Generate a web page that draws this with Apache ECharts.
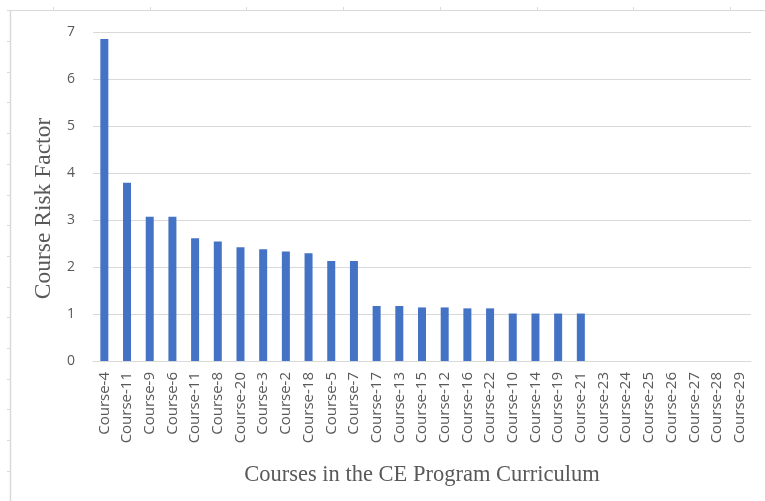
<!DOCTYPE html>
<html>
<head>
<meta charset="utf-8">
<script src="https://cdn.jsdelivr.net/npm/echarts@6/dist/echarts.min.js"></script>
<style>
html, body { margin: 0; padding: 0; background: #fff; }
#chart_example { width: 765px; height: 501px; }
</style>
</head>
<body>
<div id="chart_example"></div>
<script>
// courses, sorted by risk factor
var courses = [
  "Course-4", "Course-11", "Course-9", "Course-6", "Course-11", "Course-8",
  "Course-20", "Course-3", "Course-2", "Course-18", "Course-5", "Course-7",
  "Course-17", "Course-13", "Course-15", "Course-12", "Course-16", "Course-22",
  "Course-10", "Course-14", "Course-19", "Course-21", "Course-23", "Course-24",
  "Course-25", "Course-26", "Course-27", "Course-28", "Course-29"
];
var riskFactor = [
  6.85, 3.79, 3.07, 3.07, 2.61, 2.54,
  2.42, 2.38, 2.33, 2.29, 2.13, 2.13,
  1.17, 1.17, 1.14, 1.14, 1.12, 1.12,
  1.01, 1.01, 1.01, 1.01, 0, 0,
  0, 0, 0, 0, 0
];
var yTicks = [0, 1, 2, 3, 4, 5, 6, 7];

// light frame left over from the spreadsheet screenshot
var frame = [
  { type: "line", shape: { x1: 7, y1: 10.5, x2: 765, y2: 10.5 }, style: { stroke: "#d9d9d9", lineWidth: 1 } },
  { type: "line", shape: { x1: 10.5, y1: 10, x2: 10.5, y2: 501 }, style: { stroke: "#d9d9d9", lineWidth: 1.5 } }
];
for (var i = 0; i < 8; i++) {
  var tx = Math.round(53 + i * 96.7) + 0.5;
  frame.push({ type: "line", shape: { x1: tx, y1: 7, x2: tx, y2: 10 }, style: { stroke: "#d9d9d9", lineWidth: 1 } });
}
for (var j = 0; j < 16; j++) {
  var ty = Math.round(41 + j * 30.7) + 0.5;
  frame.push({ type: "line", shape: { x1: 7, y1: ty, x2: 10, y2: ty }, style: { stroke: "#d9d9d9", lineWidth: 1 } });
}

var option = {
  animation: false,
  backgroundColor: "#fff",
  color: ["#4472C4"],
  graphic: frame,
  grid: {
    left: 93,
    right: 14,
    top: 32,
    bottom: 140
  },
  xAxis: {
    type: "category",
    data: courses,
    name: "Courses in the CE Program Curriculum",
    nameLocation: "middle",
    nameGap: 103,
    nameTextStyle: {
      fontFamily: "Liberation Serif",
      fontSize: 22.5,
      color: "#595959"
    },
    axisLine: { lineStyle: { color: "#d9d9d9" } },
    axisTick: { show: false },
    axisLabel: {
      rotate: 90,
      interval: 0,
      margin: 11,
      fontFamily: "Open Sans",
      fontSize: 15,
      color: "#595959"
    }
  },
  yAxis: {
    type: "value",
    min: yTicks[0],
    max: yTicks[yTicks.length - 1],
    interval: 1,
    name: "Course Risk Factor",
    nameLocation: "middle",
    nameGap: 28,
    nameTextStyle: {
      fontFamily: "Liberation Serif",
      fontSize: 23.5,
      color: "#595959",
      padding: [0, 24, 0, 0]
    },
    axisLine: { show: false },
    axisTick: { show: false },
    axisLabel: {
      margin: 18,
      fontFamily: "Open Sans",
      fontSize: 14,
      color: "#595959"
    },
    splitLine: { lineStyle: { color: "#d9d9d9", width: 1 } }
  },
  series: [
    {
      name: "Course Risk Factor",
      type: "bar",
      barWidth: 8,
      data: riskFactor
    }
  ]
};
var myChart = echarts.init(document.getElementById("chart_example"));
myChart.setOption(option);
</script>
</body>
</html>
